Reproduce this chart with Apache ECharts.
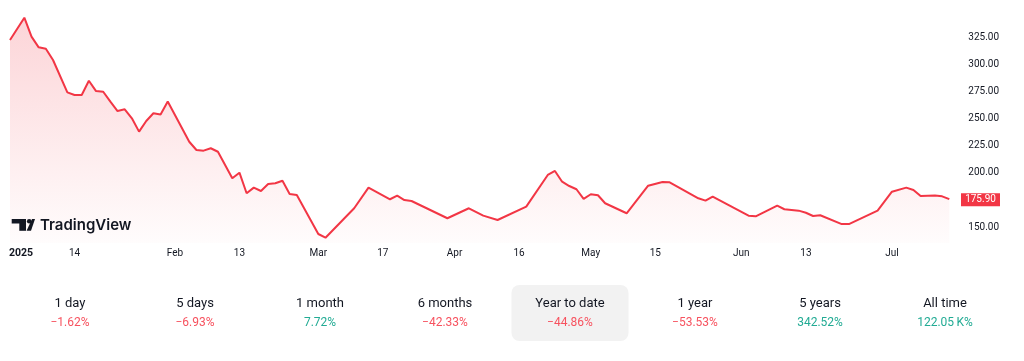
<!DOCTYPE html>
<html>
<head>
<meta charset="utf-8">
<script src="https://cdn.jsdelivr.net/npm/echarts@6/dist/echarts.min.js"></script>
<style>
  html, body { margin: 0; padding: 0; background: #ffffff; }
  #chart { width: 1024px; height: 361px; }
</style>
</head>
<body>
<div id="chart"></div>
<script>
// ---- data ----
const nPoints = 132; // number of sampled time slots on the x axis
const pointIndex = [0,2,3,4,5,6,8,9,10,11,12,13,14,15,16,17,18,19,20,21,22,25,26,27,28,29,30,31,32,33,34,35,36,37,38,39,40,43,44,48,50,53,54,55,56,61,64,66,68,72,75,76,77,78,79,80,81,82,83,86,89,91,92,96,97,98,103,104,107,108,110,111,112,113,116,117,121,123,125,126,127,129,130,131];
const pointValue = [322.5,343.1,325.6,315.8,314.5,304.1,274.3,271.9,271.9,285.0,275.5,274.9,265.7,257.1,258.7,250.4,238.1,247.9,255.0,253.9,265.9,228.8,221.2,220.6,222.8,219.6,207.4,195.1,200.3,181.3,186.5,183.4,189.9,190.5,192.9,180.7,179.8,143.8,140.4,167.5,186.5,175.8,179.1,175.1,174.2,158.3,167.5,160.7,156.7,169.0,198.2,201.9,192.0,188.0,185.0,176.1,180.4,179.5,172.1,162.9,188.3,191.7,191.4,176.7,174.5,178.2,160.7,160.1,169.9,166.6,165.3,163.4,160.4,161.1,152.9,152.9,165.3,182.8,186.5,184.4,178.8,179.3,178.5,175.9];
const xTickIndex = [0, 9, 23, 32, 43, 52, 62, 71, 81, 90, 102, 111, 123];
const xTickLabel = ['2025', '14', 'Feb', '13', 'Mar', '17', 'Apr', '16', 'May', '15', 'Jun', '13', 'Jul'];
const yTickValues = [150, 200, 225, 250, 275, 300, 325];
const periodLabels = ['1 day', '5 days', '1 month', '6 months', 'Year to date', '1 year', '5 years', 'All time'];
const periodChanges = ['\u22121.62%', '\u22126.93%', '7.72%', '\u221242.33%', '\u221244.86%', '\u221253.53%', '342.52%', '122.05\u2009K%'];
const periodUp = [false, false, true, false, false, false, true, true];
const selectedPeriod = 4;

// ---- build ----
const categories = Array.from({length: nPoints}, (_, i) => String(i));
const seriesData = pointIndex.map((idx, k) => [idx, pointValue[k]]);
const lastPoint = seriesData[seriesData.length - 1];
const tickMap = {};
xTickIndex.forEach((idx, k) => { tickMap[idx] = xTickLabel[k]; });

const RED = '#F23645';
const FONT = 'Roboto, "Noto Sans", sans-serif';

const graphics = [];
// stats strip
const colW = 125, colStart = 70;
graphics.push({
  type: 'rect',
  shape: { x: colStart + colW * selectedPeriod - 58.5, y: 285, width: 117, height: 56, r: 8 },
  style: { fill: '#F2F2F2' },
  z: 1
});
periodLabels.forEach((lab, i) => {
  const cx = colStart + colW * i;
  graphics.push({
    type: 'text', x: cx, y: 304, z: 2,
    style: { text: lab, fill: '#131722', font: '13px ' + FONT, align: 'center', verticalAlign: 'middle' }
  });
  graphics.push({
    type: 'text', x: cx, y: 323, z: 2,
    style: { text: periodChanges[i], fill: periodUp[i] ? '#22AB94' : '#F7525F', font: '12px ' + FONT, align: 'center', verticalAlign: 'middle' }
  });
});
// TradingView logo
graphics.push({ type: 'rect', shape: { x: 11.7, y: 219, width: 14.3, height: 4.5 }, style: { fill: '#131722' }, z: 5 });
graphics.push({ type: 'rect', shape: { x: 19.3, y: 219, width: 6.7, height: 11.8 }, style: { fill: '#131722' }, z: 5 });
graphics.push({ type: 'circle', shape: { cx: 29.2, cy: 221.2, r: 2.3 }, style: { fill: '#131722' }, z: 5 });
graphics.push({ type: 'polygon', shape: { points: [[32, 219], [35, 219], [31, 230.8], [26.6, 230.8]] }, style: { fill: '#131722' }, z: 5 });
graphics.push({
  type: 'text', x: 40, y: 225, z: 5,
  style: { text: 'TradingView', fill: '#131722', font: '600 15px Inter, Roboto, sans-serif', align: 'left', verticalAlign: 'middle' }
});

const chart = echarts.init(document.getElementById('chart'), null, { renderer: 'canvas' });
chart.setOption({
  animation: false,
  backgroundColor: '#ffffff',
  grid: { left: 10, right: 74.7, top: 0, bottom: 118, containLabel: false },
  xAxis: {
    type: 'category',
    data: categories,
    boundaryGap: false,
    axisLine: { show: false },
    axisTick: { show: false },
    splitLine: { show: false },
    axisLabel: {
      interval: (idx) => tickMap[idx] !== undefined,
      hideOverlap: false,
      margin: 5,
      color: '#131722',
      fontFamily: FONT,
      fontSize: 10,
      formatter: (val, idx) => {
        const t = tickMap[idx];
        if (t === undefined) return '';
        return idx === 0 ? '{first|' + t + '}' : t;
      },
      rich: {
        first: { fontWeight: 'bold', fontSize: 10.5, color: '#131722', fontFamily: FONT, padding: [0, 0, 0, 22] }
      }
    }
  },
  yAxis: {
    type: 'value',
    position: 'right',
    min: 135.5,
    max: 359.4,
    axisLine: { show: false },
    axisTick: { show: false },
    splitLine: { show: false },
    axisLabel: {
      customValues: yTickValues,
      margin: 19,
      color: '#131722',
      fontFamily: FONT,
      fontSize: 10,
      formatter: (v) => v.toFixed(2)
    }
  },
  series: [{
    type: 'line',
    data: seriesData,
    showSymbol: false,
    symbol: 'none',
    lineStyle: { color: RED, width: 2 },
    areaStyle: {
      color: new echarts.graphic.LinearGradient(0, 0, 0, 1, [
        { offset: 0, color: 'rgba(242,54,69,0.30)' },
        { offset: 1, color: 'rgba(242,54,69,0.02)' }
      ])
    },
    markPoint: {
      silent: true,
      symbol: 'rect',
      symbolSize: [39, 13],
      symbolOffset: [31.2, 0.5],
      itemStyle: { color: RED },
      label: {
        show: true,
        color: '#ffffff',
        fontFamily: FONT,
        fontSize: 10,
        formatter: () => lastPoint[1].toFixed(2)
      },
      data: [{ coord: [lastPoint[0], lastPoint[1]] }]
    }
  }],
  graphic: graphics
});
</script>
</body>
</html>
